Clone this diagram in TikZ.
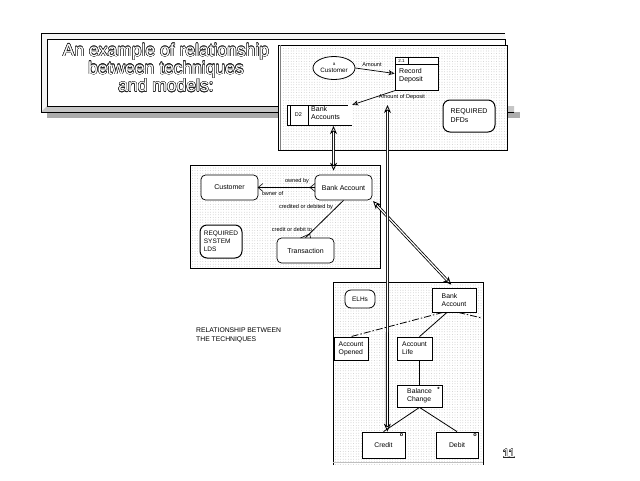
\documentclass[tikz,border=0pt]{standalone}
\usepackage{fontspec}
\setmainfont{Liberation Sans}
\usepackage{contour}
\contourlength{0.4pt}
\usetikzlibrary{arrows.meta,patterns.meta,shapes.geometric}
\begin{document}
\begin{tikzpicture}[x=1pt,y=-1pt,
  panel/.style={fill=white,postaction={pattern={Dots[radius=0.32pt,distance=2.6pt]},pattern color=gray!75}},
  ent/.style={draw,line width=0.7pt,rounded corners=4.5pt,fill=white,minimum width=57pt,minimum height=25pt,inner sep=1pt,font=\fontsize{7}{8.4}\selectfont},
  req/.style={draw,line width=1pt,rounded corners=7pt,fill=white,align=left,inner sep=1.5pt,font=\fontsize{7}{9}\selectfont},
  elhbox/.style={draw,line width=0.8pt,fill=white,align=left,inner sep=1pt,font=\fontsize{6.8}{8}\selectfont},
  lbl/.style={font=\fontsize{5.6}{6.5}\selectfont,inner sep=0.5pt},
  flow/.style={line width=0.7pt,-{Stealth[open,length=6pt,width=5pt,inset=1.5pt]}},
  dbl/.style={double=white,double distance=1.2pt,line width=0.8pt,{Stealth[open,length=8pt,width=7pt,inset=2.5pt]}-{Stealth[open,length=8pt,width=7pt,inset=2.5pt]}},
  dashdot/.style={line width=0.8pt,dash pattern=on 7pt off 2pt on 1.5pt off 2pt},
  outl/.style={text=white}]
\useasboundingbox (0,0) rectangle (640,480);
\fill[white] (0,0) rectangle (640,480);

% ---------- title box ----------
\fill[gray!65] (47,112) rectangle (520,118);
\fill[gray!22] (41,33) rectangle (505,112);
\fill[gray!8] (41,33) -- (505,33) -- (505,39) -- (47,39) -- (47,106) -- (41,112) -- cycle;
\fill[gray!45] (41,112) -- (47,106) -- (514,106) -- (514,112) -- cycle;
\draw[line width=0.5pt] (514,112) -- (41,112) -- (41,33) -- (505,33);
\draw[line width=0.6pt,fill=white] (47,39) rectangle (505,106);
\node[align=center,font=\fontsize{17.5}{15.5}\selectfont,outl] (title) at (166,68)
  {\contour{black!85}{An example of relationship}\\\contour{black!85}{between techniques}\\\contour{black!85}{and models:}};

% ---------- DFD panel ----------
\path[panel] (278,45) rectangle (507,150);
\draw[line width=0.7pt] (278,45) rectangle (507,150);
\draw[line width=0.5pt,gray] (280.5,45) -- (280.5,150);

\node[ellipse,draw,line width=0.8pt,fill=white,minimum width=42pt,minimum height=23pt,inner sep=0pt,align=center,font=\fontsize{6.3}{6.5}\selectfont] (cust) at (334,68)
  {{\fontsize{4.5}{5}\selectfont a}\\Customer};

\node[draw,line width=0.8pt,fill=white,minimum width=43pt,minimum height=33pt,inner sep=0pt] (rd) at (416.5,73.5) {};
\draw[line width=0.6pt] (395,64) -- (438,64);
\draw[line width=0.6pt] (408,57) -- (408,64);
\node[font=\fontsize{4.5}{5}\selectfont,inner sep=0pt] (rdnum) at (401.5,60.7) {2.1};
\node[anchor=north west,align=left,font=\fontsize{7}{8.4}\selectfont,inner sep=0pt] (rdtxt) at (399,68) {Record\\Deposit};

\node[minimum width=65pt,minimum height=20pt,inner sep=0pt,fill=white] (d2) at (319.5,115) {};
\draw[line width=0.7pt] (352,125) -- (287,125) -- (287,105) -- (348,105);
\draw[line width=0.6pt] (290,105) -- (290,125);
\draw[line width=0.6pt] (308,105) -- (308,125);
\node[font=\fontsize{5.5}{6}\selectfont,inner sep=0pt] (d2id) at (298.5,115) {D2};
\node[anchor=north west,align=left,font=\fontsize{7}{8}\selectfont,inner sep=0pt] (d2txt) at (311,106.5) {Bank\\Accounts};

\node[req,minimum width=52pt,minimum height=32pt] (reqdfd) at (469,116) {REQUIRED\\DFDs};

\draw[flow] (cust.east) -- (rd.west);
\node[lbl] (amt) at (372,65) {Amount};
\draw[flow] ([xshift=1pt]rd.south west) -- (d2.north east);
\node[lbl] (amtd) at (402,97) {Amount of Deposit};

% ---------- LDS panel ----------
\path[panel] (190,165) rectangle (380,268);
\draw[line width=0.7pt] (190,165) rectangle (380,268);

\node[ent] (lcust) at (229.5,187.5) {Customer};
\node[ent] (lba) at (343.5,187.5) {Bank Account};
\node[ent] (ltr) at (305.5,250.5) {Transaction};
\node[req,minimum width=42pt,minimum height=33pt,inner sep=1pt,font=\fontsize{6.5}{8}\selectfont] (reqlds) at (221,241.5) {REQUIRED\\SYSTEM\\LDS};

\draw[line width=1.2pt] (lcust.east) -- (lba.west);
\draw[line width=0.6pt] (258,187.5) -- (263,183.5) (258,187.5) -- (263,191.5);
\draw[line width=0.6pt] (310,187.5) -- (315,183.5) (310,187.5) -- (315,191.5);
\node[lbl] (ownby) at (297,181) {owned by};
\node[lbl] (ownof) at (272.5,193.5) {owner of};

\draw[line width=0.8pt] (lba.south) -- (ltr.north);
\draw[line width=0.6pt] (309.8,233.8) -- (300.5,238) (309.8,233.8) -- (310.5,238);
\node[lbl] (cdb) at (306,207) {credited or debited by};
\node[lbl] (cdt) at (292,229) {credit or debit to};

% ---------- ELH panel ----------
\path[panel] (333,282) rectangle (483,465);
\draw[line width=0.7pt] (333,465) -- (333,282) -- (483,282) -- (483,465);
\draw[line width=0.4pt,gray!50] (333,462) -- (483,462);

\node[req,minimum width=30pt,minimum height=18pt,rounded corners=6pt,line width=0.8pt,align=center,font=\fontsize{6.5}{7}\selectfont] (elhs) at (360,299) {ELHs};
\node[elhbox,minimum width=44pt,minimum height=24pt] (eba) at (454,300) {Bank\\Account};
\node[elhbox,minimum width=34pt,minimum height=23pt] (aop) at (351,348.5) {Account\\Opened};
\node[elhbox,minimum width=35pt,minimum height=23pt] (alf) at (414.5,348.5) {Account\\Life};
\node[elhbox,minimum width=45pt,minimum height=22pt] (bch) at (419.5,396) {Balance\\Change};
\node[elhbox,minimum width=43pt,minimum height=26pt,align=center] (crd) at (383.5,445) {Credit};
\node[elhbox,minimum width=42pt,minimum height=26pt,align=center] (dbt) at (457,445) {Debit};
\node[font=\fontsize{6}{6}\selectfont\bfseries,inner sep=0pt] (star) at (438.5,389.5) {*};
\node[font=\fontsize{5.5}{6}\selectfont\bfseries,inner sep=0pt] (o1) at (401.5,435.5) {o};
\node[font=\fontsize{5.5}{6}\selectfont\bfseries,inner sep=0pt] (o2) at (475,435.5) {o};

\coordinate (ebaout) at (482,318);
\draw[dashdot] ([xshift=-11pt]eba.south) -- (aop.north);
\draw[line width=0.8pt] ([xshift=-7pt]eba.south) -- ([xshift=5pt]alf.north);
\draw[dashdot] ([xshift=4pt]eba.south) -- (ebaout);
\draw[line width=0.8pt] ([xshift=5pt]alf.south) -- ([xshift=0pt]bch.north);
\draw[line width=0.8pt] (bch.south) -- (crd.north);
\draw[line width=0.8pt] (bch.south) -- (dbt.north);

% ---------- inter-panel arrows ----------
\coordinate (d2out) at (333.5,126);
\draw[dbl,shorten >=4pt] (d2out) -- ([xshift=0.08pt]d2out |- lba.north);
\draw[dbl,shorten <=1pt,shorten >=4pt] (lba.south east) -- (eba.north);
\coordinate (dfdout) at (387.5,105);
\draw[dbl] (dfdout) -- ([xshift=-0.15pt]dfdout |- crd.north);

% ---------- free texts ----------
\node[anchor=north west,align=left,font=\fontsize{6.8}{8.8}\selectfont,inner sep=0pt] (rel) at (196,328) {RELATIONSHIP BETWEEN\\THE TECHNIQUES};
\node[font=\fontsize{12}{12}\selectfont,outl] (pg) at (509,454) {\contour{black!85}{11}};
\end{tikzpicture}
\end{document}
